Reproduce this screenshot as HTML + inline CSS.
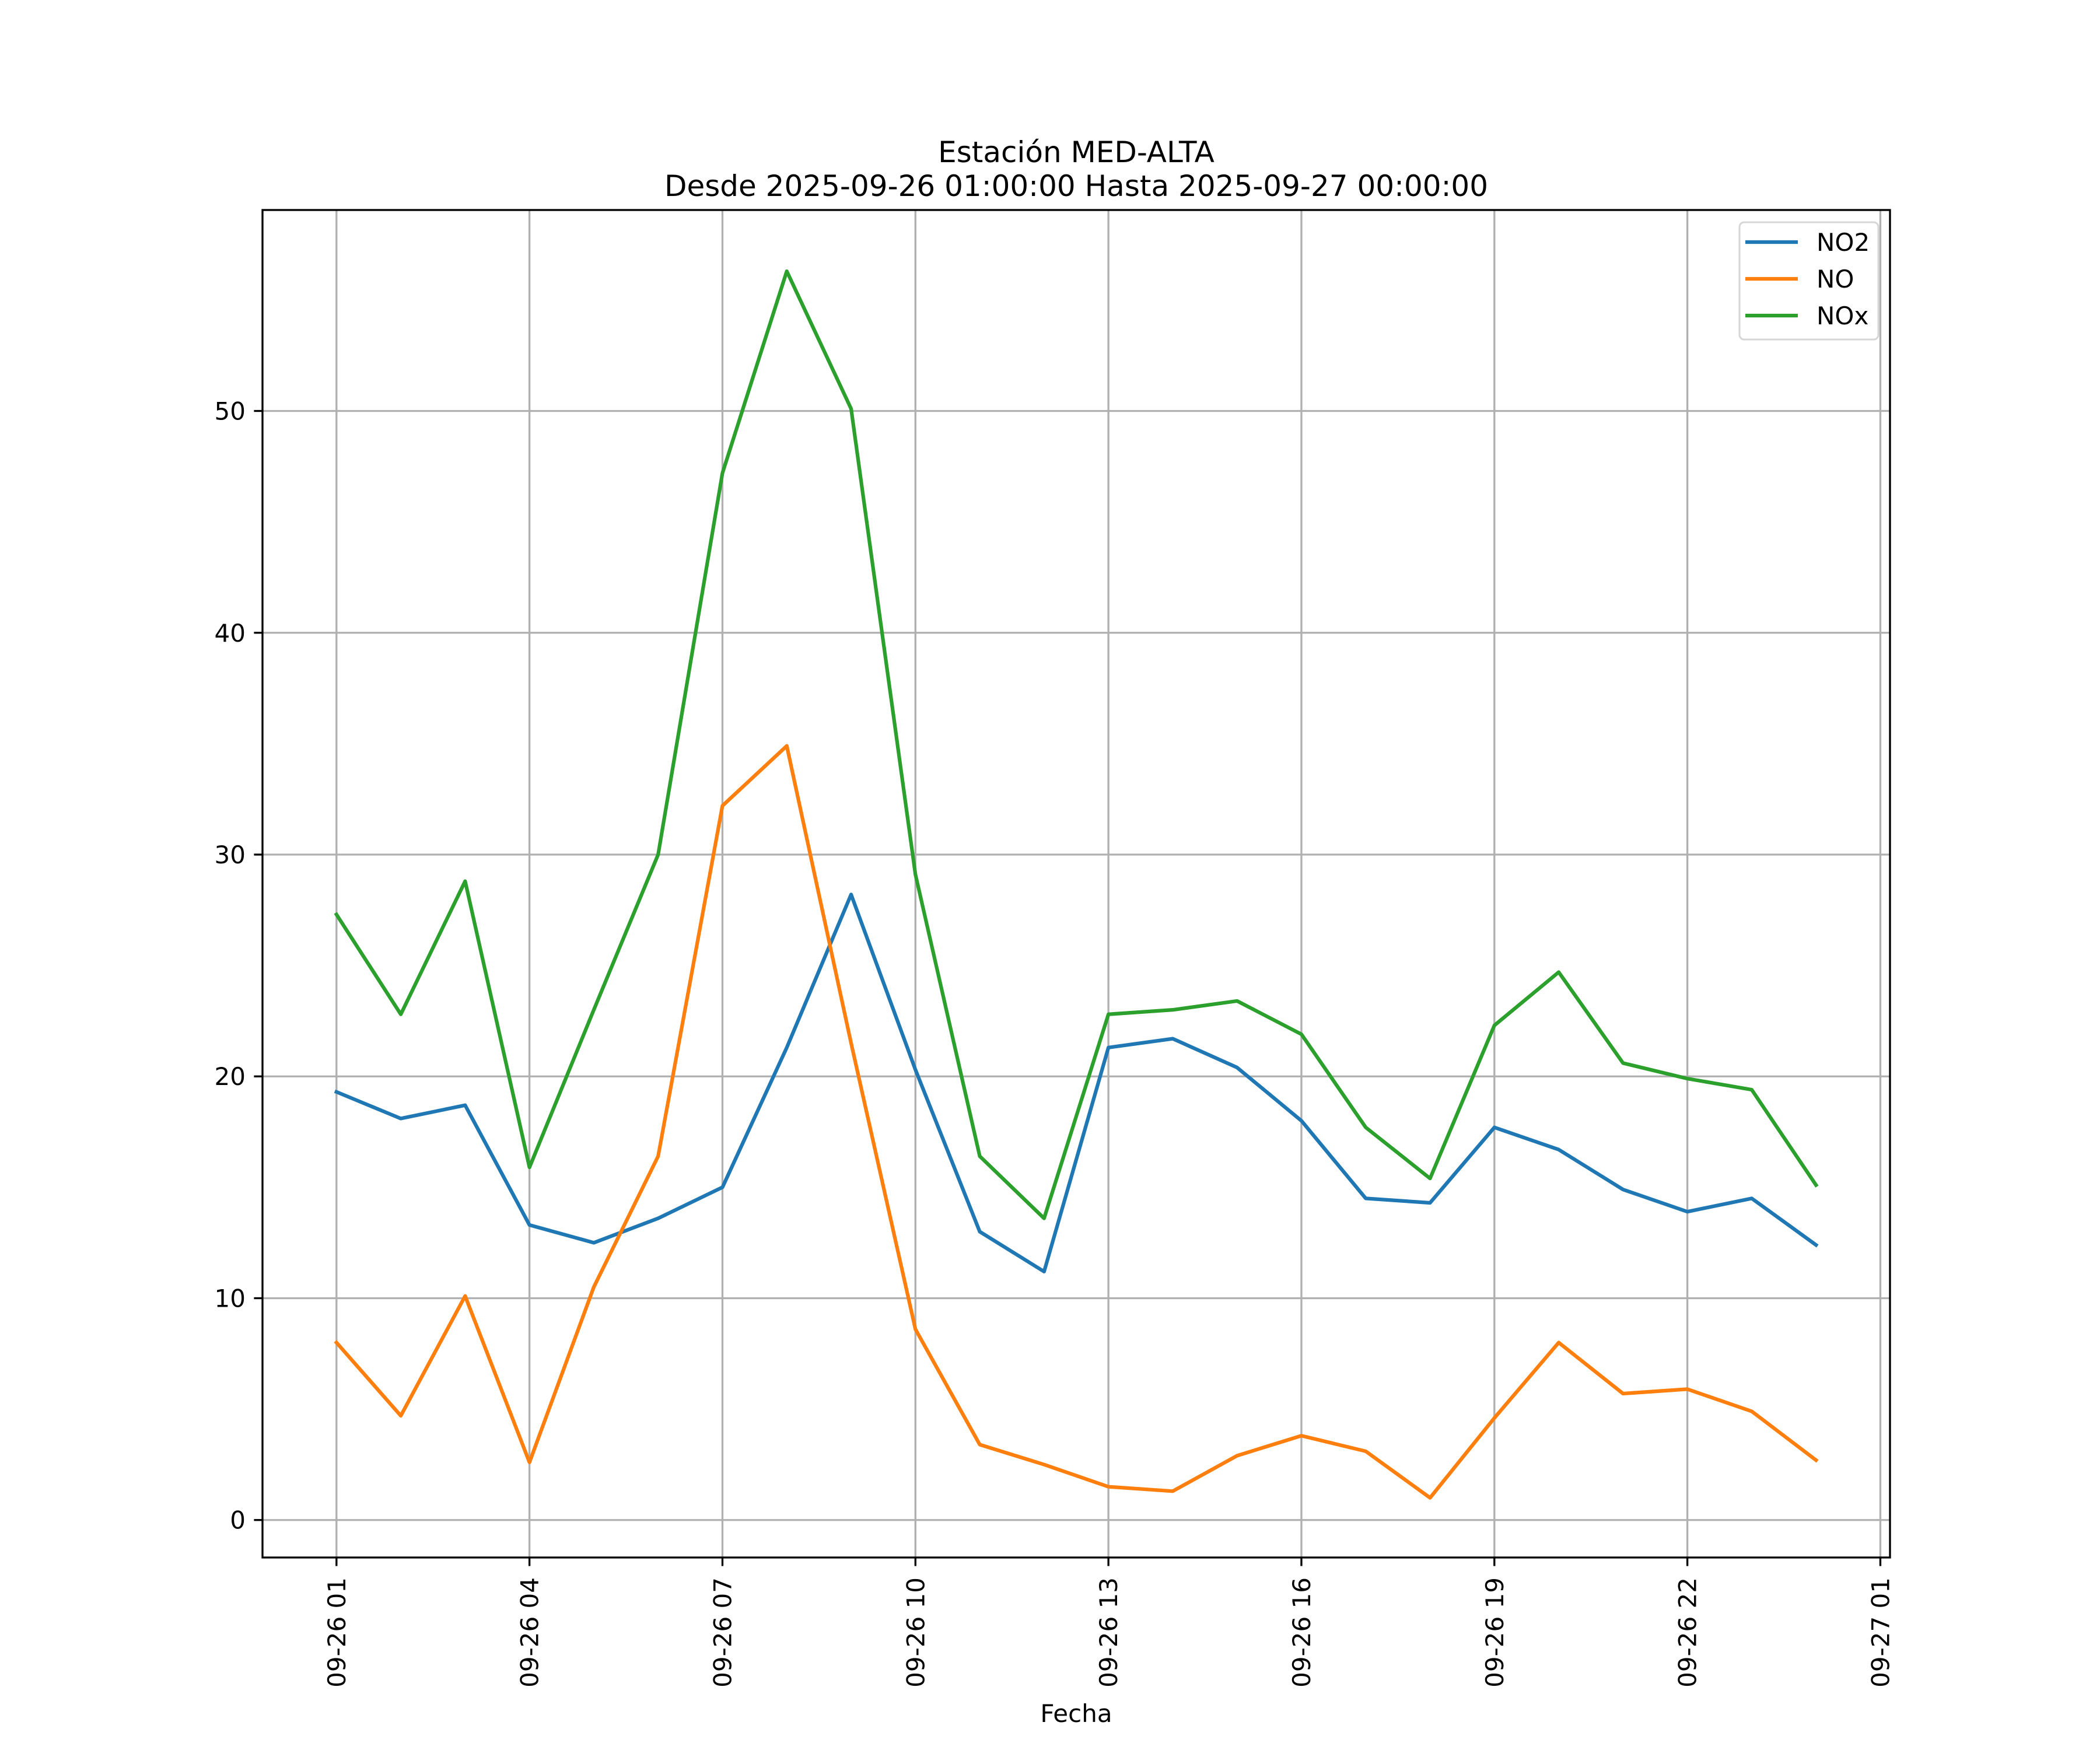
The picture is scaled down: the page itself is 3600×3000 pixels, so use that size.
<!DOCTYPE html>
<html><head><meta charset="utf-8"><style>html,body{margin:0;padding:0;background:#fff}svg{display:block}text{font-family:"DejaVu Sans","Liberation Sans",sans-serif;fill:#000}</style></head>
<body>
<svg id="chart" width="3600" height="3000" viewBox="0 0 3600 3000" xmlns="http://www.w3.org/2000/svg">
<rect width="3600" height="3000" fill="#fff"/>
<text x="1845" y="278" font-size="50" text-anchor="middle">Estación MED-ALTA</text>
<text x="1845" y="336" font-size="50" text-anchor="middle">Desde 2025-09-26 01:00:00 Hasta 2025-09-27 00:00:00</text>
<g id="grid"></g><g id="series"></g><g id="axes"></g>
<text x="1845" y="2952" font-size="42" text-anchor="middle">Fecha</text>
<g>
<rect x="2982" y="381" width="238" height="201" rx="8" fill="#fff" fill-opacity="0.8" stroke="#d6d6d6" stroke-width="3"/>
<line x1="2992" y1="415" x2="3082" y2="415" stroke="#1f77b4" stroke-width="6.25"/>
<text x="3114" y="430" font-size="42">NO2</text>
<line x1="2992" y1="478" x2="3082" y2="478" stroke="#ff7f0e" stroke-width="6.25"/>
<text x="3114" y="493" font-size="42">NO</text>
<line x1="2992" y1="541" x2="3082" y2="541" stroke="#2ca02c" stroke-width="6.25"/>
<text x="3114" y="556" font-size="42">NOx</text>
</g>
</svg>
<script>
const hours = [1,2,3,4,5,6,7,8,9,10,11,12,13,14,15,16,17,18,19,20,21,22,23,24];
const no2 = [19.3,18.1,18.7,13.3,12.5,13.6,15.0,21.3,28.2,20.3,13.0,11.2,21.3,21.7,20.4,18.0,14.5,14.3,17.7,16.7,14.9,13.9,14.5,12.4];
const no = [8.0,4.7,10.1,2.6,10.5,16.4,32.2,34.9,21.5,8.6,3.4,2.5,1.5,1.3,2.9,3.8,3.1,1.0,4.6,8.0,5.7,5.9,4.9,2.7];
const nox = [27.3,22.8,28.8,15.9,23.0,30.0,47.2,56.3,50.1,29.1,16.4,13.6,22.8,23.0,23.4,21.9,17.7,15.4,22.3,24.7,20.6,19.9,19.4,15.1];
const xTickHours = [1,4,7,10,13,16,19,22,25];
const xTickLabels = ["09-26 01","09-26 04","09-26 07","09-26 10","09-26 13","09-26 16","09-26 19","09-26 22","09-27 01"];
const yTicks = [0,10,20,30,40,50];

const NS="http://www.w3.org/2000/svg";
const L=450,R=3240,T=360,B=2670;
const xmin=1-1.15,xmax=24+1.15,ymin=-1.69,ymax=59.06;
const xs=h=>L+(h-xmin)/(xmax-xmin)*(R-L);
const ys=v=>B-(v-ymin)/(ymax-ymin)*(B-T);
function mk(tag,attrs,parent){const e=document.createElementNS(NS,tag);for(const k in attrs)e.setAttribute(k,attrs[k]);parent.appendChild(e);return e;}
const grid=document.getElementById('grid'),axes=document.getElementById('axes'),series=document.getElementById('series');
xTickHours.forEach((h,i)=>{
  const x=xs(h);
  const g=mk('line',{x1:x,y1:T,x2:x,y2:B,stroke:'#b0b0b0','stroke-width':3.33},grid);
  
  
  const t=mk('line',{x1:x,y1:B,x2:x,y2:B+14.6,stroke:'#000','stroke-width':3.33},axes);
  
  
  const lb=mk('text',{x:0,y:0,'font-size':42,'text-anchor':'end',transform:`translate(${x+15},${B+34}) rotate(-90)`},axes);
  lb.textContent=xTickLabels[i];
  
  
});
yTicks.forEach(v=>{
  const y=ys(v);
  const g=mk('line',{x1:L,y1:y,x2:R,y2:y,stroke:'#b0b0b0','stroke-width':3.33},grid);
  
  
  const t=mk('line',{x1:L-14.6,y1:y,x2:L,y2:y,stroke:'#000','stroke-width':3.33},axes);
  
  
  const lb=mk('text',{x:L-29,y:y+15,'font-size':42,'text-anchor':'end'},axes);
  lb.textContent=String(v);
  
  
});
const frame=mk('rect',{x:L,y:T,width:R-L,height:B-T,fill:'none',stroke:'#000','stroke-width':3.33},axes);


[[no2,'#1f77b4','no2-line'],[no,'#ff7f0e','no-line'],[nox,'#2ca02c','nox-line']].forEach(([d,c,n])=>{
  const p=mk('polyline',{points:d.map((v,i)=>xs(hours[i])+','+ys(v)).join(' '),fill:'none',stroke:c,'stroke-width':6.25,'stroke-linejoin':'round','stroke-linecap':'square'},series);
  
  
});
</script>
</body></html>
